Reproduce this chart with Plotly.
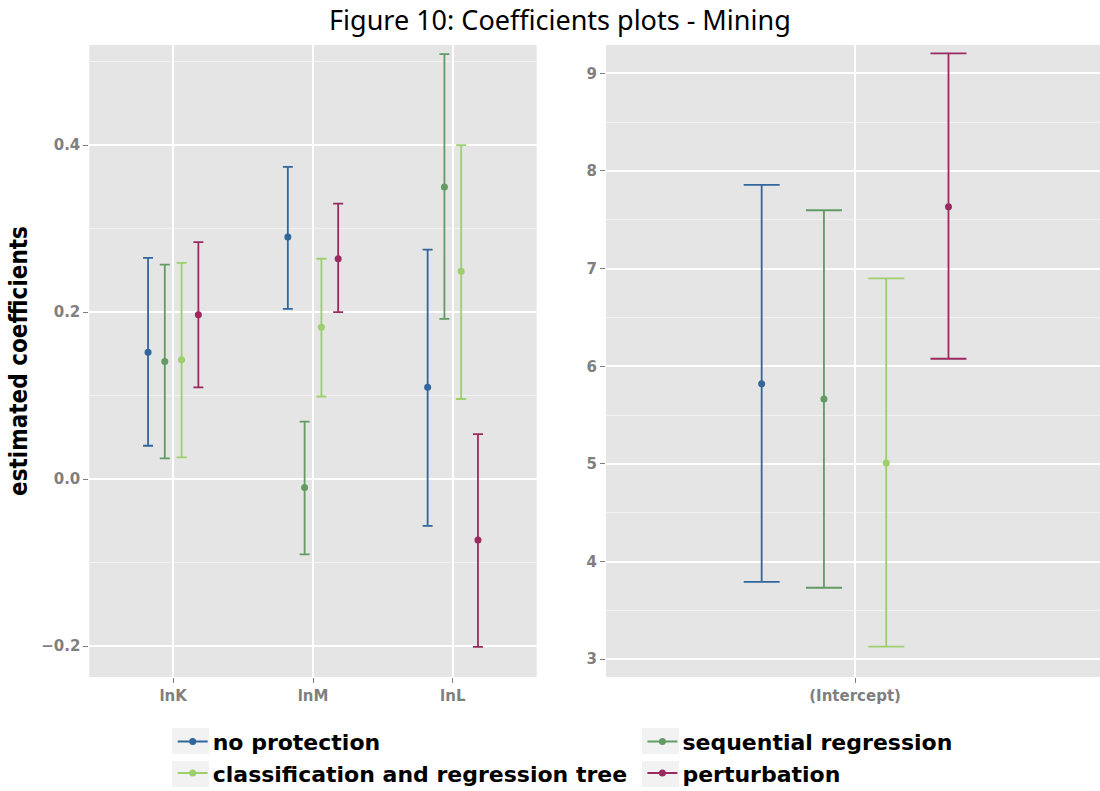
import plotly.graph_objects as go

# ---------------- data ----------------
title_text = "Figure 10: Coefficients plots - Mining"
slope_terms = ["lnK", "lnM", "lnL"]
intercept_term = ["(Intercept)"]
methods = ["no protection", "sequential regression",
           "classification and regression tree", "perturbation"]

# slope coefficients (lnK, lnM, lnL)
noprot_est = [0.152, 0.290, 0.110]
noprot_lo = [0.040, 0.204, -0.056]
noprot_hi = [0.265, 0.374, 0.275]

seqreg_est = [0.141, -0.010, 0.350]
seqreg_lo = [0.025, -0.090, 0.192]
seqreg_hi = [0.257, 0.069, 0.509]

cart_est = [0.143, 0.182, 0.249]
cart_lo = [0.026, 0.099, 0.096]
cart_hi = [0.259, 0.264, 0.400]

perturb_est = [0.197, 0.264, -0.073]
perturb_lo = [0.110, 0.200, -0.201]
perturb_hi = [0.284, 0.330, 0.054]

# intercepts: no protection, sequential regression, CART, perturbation
intercept_est = [5.82, 5.664, 5.01, 7.633]
intercept_lo = [3.793, 3.732, 3.13, 6.077]
intercept_hi = [7.857, 7.598, 6.90, 9.205]

# ---------------- style ----------------
colors = ["#31679c", "#629b63", "#9dcf6b", "#9b2a61"]
legend_slot = ["legend", "legend2", "legend", "legend2"]
dodge_left = [-0.18, -0.06, 0.06, 0.18]
dodge_right = [-0.225, -0.075, 0.075, 0.225]
tick_font = dict(family="DejaVu Sans", size=15, color="#7f7f7f", weight="bold")
legend_font = dict(family="DejaVu Sans", size=22, color="black", weight="bold")
panel_bg = "#e5e5e5"

slope_est = [noprot_est, seqreg_est, cart_est, perturb_est]
slope_lo = [noprot_lo, seqreg_lo, cart_lo, perturb_lo]
slope_hi = [noprot_hi, seqreg_hi, cart_hi, perturb_hi]

fig = go.Figure()

for k, name in enumerate(methods):
    est, lo, hi = slope_est[k], slope_lo[k], slope_hi[k]
    fig.add_trace(go.Scatter(
        x=[i + dodge_left[k] for i in range(len(slope_terms))], y=est,
        mode="markers", marker=dict(color=colors[k], size=7),
        error_y=dict(type="data", symmetric=False,
                     array=[h - e for h, e in zip(hi, est)],
                     arrayminus=[e - l for e, l in zip(est, lo)],
                     color=colors[k], thickness=1.8, width=5),
        showlegend=False, xaxis="x", yaxis="y", name=name))
    fig.add_trace(go.Scatter(
        x=[dodge_right[k]], y=[intercept_est[k]],
        mode="markers", marker=dict(color=colors[k], size=7),
        error_y=dict(type="data", symmetric=False,
                     array=[intercept_hi[k] - intercept_est[k]],
                     arrayminus=[intercept_est[k] - intercept_lo[k]],
                     color=colors[k], thickness=1.8, width=18),
        showlegend=False, xaxis="x2", yaxis="y2", name=name))

# legend entries
for k, name in enumerate(methods):
    fig.add_trace(go.Scatter(
        x=[None], y=[None], mode="lines+markers", name=name,
        line=dict(color=colors[k], width=2), marker=dict(color=colors[k], size=7),
        xaxis="x", yaxis="y", legend=legend_slot[k]))

# grey legend key boxes (decoration)
for bx in (0.1564, 0.5836):
    for by in ((0.0796, 0.0468), (0.0379, 0.0051)):
        fig.add_shape(type="rect", xref="paper", yref="paper",
                      x0=bx, x1=bx + 0.0336, y0=by[1], y1=by[0],
                      fillcolor="#f2f2f2", line=dict(width=0), layer="below")

ydom = [0.1441, 0.9431]
common_grid = dict(showline=False, zeroline=False, ticks="outside", ticklen=5,
                   tickcolor="#7f7f7f", tickwidth=1.2, gridcolor="white",
                   gridwidth=1.6, tickfont=tick_font, automargin=False)

legend_common = dict(orientation="v", yanchor="top", xanchor="left", y=0.089,
                     font=legend_font, bgcolor="rgba(0,0,0,0)",
                     traceorder="normal", itemwidth=30)

fig.update_layout(
    width=1100, height=791,
    margin=dict(l=0, r=0, t=0, b=0, autoexpand=False),
    paper_bgcolor="white", plot_bgcolor=panel_bg,
    title=dict(text=title_text, x=0.509, xanchor="center", y=0.974,
               yanchor="middle", yref="container",
               font=dict(family="Noto Sans", size=27, color="black")),
    xaxis=dict(domain=[0.0812, 0.4879], range=[-0.6, 2.6],
               tickvals=list(range(len(slope_terms))), ticktext=slope_terms,
               anchor="y", **common_grid),
    yaxis=dict(domain=ydom, range=[-0.237, 0.520], tickvals=[-0.2, 0.0, 0.2, 0.4],
               ticktext=["\u22120.2", "0.0", "0.2", "0.4"], anchor="x",
               minor=dict(tickvals=[-0.1, 0.1, 0.3, 0.5], showgrid=True,
                          gridcolor="#f2f2f2", gridwidth=1, ticks=""),
               title=dict(text="estimated coefficients", standoff=6,
                          font=dict(family="DejaVu Sans Condensed, Liberation Sans Narrow, Roboto Condensed, Roboto, sans-serif",
                                    size=24, color="black", weight="bold")),
               **common_grid),
    xaxis2=dict(domain=[0.5509, 1.0], range=[-0.6, 0.59],
                tickvals=[0], ticktext=intercept_term, anchor="y2", **common_grid),
    yaxis2=dict(domain=ydom, range=[2.818, 9.29], tickvals=[3, 4, 5, 6, 7, 8, 9],
                anchor="x2",
                minor=dict(tickvals=[3.5, 4.5, 5.5, 6.5, 7.5, 8.5], showgrid=True,
                           gridcolor="#f2f2f2", gridwidth=1, ticks=""),
                **common_grid),
    legend=dict(x=0.157, **legend_common),
    legend2=dict(x=0.584, **legend_common),
)

fig.write_html("out.html")
